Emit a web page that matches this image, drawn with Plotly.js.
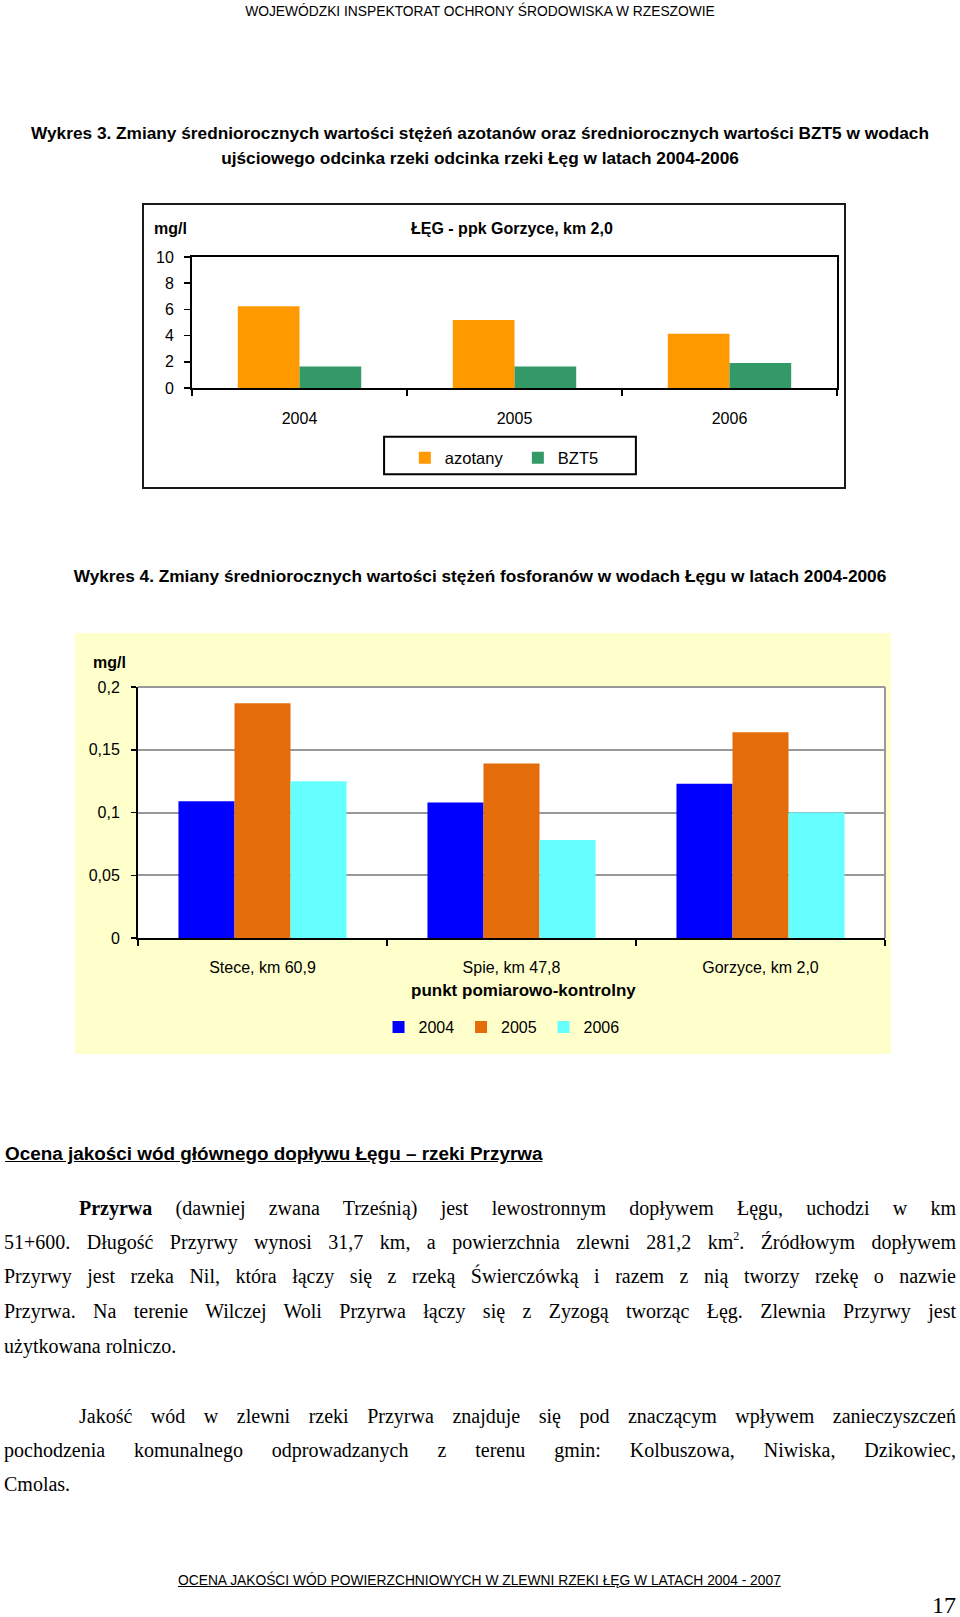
<!DOCTYPE html>
<html><head><meta charset="utf-8">
<script src="https://cdn.plot.ly/plotly-3.0.1.min.js"></script>
<style>
html,body{margin:0;padding:0;background:#fff}
body{width:960px;height:1617px;position:relative;overflow:hidden;font-family:"Liberation Sans",Arial,sans-serif;color:#000}
.t{position:absolute;white-space:nowrap;line-height:1}
.c{left:0;width:960px;text-align:center}
.b{font-weight:bold}
.ln{position:absolute;font-family:"Liberation Serif","Times New Roman",serif;font-size:20px;line-height:34px;height:34px;overflow:visible}
.j{text-align:justify;text-align-last:justify}
sup{font-size:12px;line-height:0;vertical-align:9px}
#frame1{position:absolute;left:142px;top:203px;width:704px;height:286px;box-sizing:border-box;border:2px solid #1a1a1a}
#chart1{position:absolute;left:0;top:0;width:700px;height:282px}
#chart2{position:absolute;left:75px;top:633px;width:816px;height:421px}
</style></head>
<body>
<div class="t c" style="top:5px;font-size:13.8px">WOJEWÓDZKI INSPEKTORAT OCHRONY ŚRODOWISKA W RZESZOWIE</div>
<div class="t c b" style="top:125px;font-size:17.25px">Wykres 3. Zmiany średniorocznych wartości stężeń azotanów oraz średniorocznych wartości BZT5 w wodach</div>
<div class="t c b" style="top:150px;font-size:17.25px">ujściowego odcinka rzeki odcinka rzeki Łęg w latach 2004-2006</div>
<div id="frame1"><div id="chart1"></div></div>
<div class="t c b" style="top:568px;font-size:17.25px">Wykres 4. Zmiany średniorocznych wartości stężeń fosforanów w wodach Łęgu w latach 2004-2006</div>
<div id="chart2"></div>
<div class="t b" style="left:5px;top:1145px;font-size:18.9px;text-decoration:underline">Ocena jakości wód głównego dopływu Łęgu – rzeki Przyrwa</div>
<div class="ln j" style="left:79px;width:877px;top:1191px"><b>Przyrwa</b> (dawniej zwana Trześnią) jest lewostronnym dopływem Łęgu, uchodzi w km</div>
<div class="ln j" style="left:4px;width:952px;top:1225px">51+600. Długość Przyrwy wynosi 31,7 km, a powierzchnia zlewni 281,2 km<sup>2</sup>. Źródłowym dopływem</div>
<div class="ln j" style="left:4px;width:952px;top:1259px">Przyrwy jest rzeka Nil, która łączy się z rzeką Świerczówką i razem z nią tworzy rzekę o nazwie</div>
<div class="ln j" style="left:4px;width:952px;top:1294px">Przyrwa. Na terenie Wilczej Woli Przyrwa łączy się z Zyzogą tworząc Łęg. Zlewnia Przyrwy jest</div>
<div class="ln" style="left:4px;width:952px;top:1329px">użytkowana rolniczo.</div>
<div class="ln j" style="left:79px;width:877px;top:1399px">Jakość wód w zlewni rzeki Przyrwa znajduje się pod znaczącym wpływem zanieczyszczeń</div>
<div class="ln j" style="left:4px;width:952px;top:1433px">pochodzenia komunalnego odprowadzanych z terenu gmin: Kolbuszowa, Niwiska, Dzikowiec,</div>
<div class="ln" style="left:4px;width:952px;top:1467px">Cmolas.</div>
<div class="t" style="left:178px;top:1574px;font-size:13.8px;text-decoration:underline">OCENA JAKOŚCI WÓD POWIERZCHNIOWYCH W ZLEWNI RZEKI ŁĘG W LATACH 2004 - 2007</div>
<div class="t" style="right:4px;top:1593px;font-size:24px;font-family:'Liberation Serif','Times New Roman',serif">17</div>
<script>
// ---- Wykres 3 data ----
const years = ['2004', '2005', '2006'];
const azotany = [6.25, 5.2, 4.15];
const bzt5 = [1.65, 1.65, 1.9];
const ticks1 = [0, 2, 4, 6, 8, 10];

// ---- Wykres 4 data ----
const points = ['Stece, km 60,9', 'Spie, km 47,8', 'Gorzyce, km 2,0'];
const fos2004 = [0.109, 0.108, 0.123];
const fos2005 = [0.187, 0.139, 0.164];
const fos2006 = [0.125, 0.078, 0.100];
const ticks2 = [0, 0.05, 0.1, 0.15, 0.2];

const FONT = 'Liberation Sans, Arial, sans-serif';

Plotly.newPlot('chart1', [
  {type: 'bar', x: years, y: azotany, name: 'azotany', marker: {color: '#FF9900'}},
  {type: 'bar', x: years, y: bzt5, name: 'BZT5', marker: {color: '#339966'}}
], {
  width: 700, height: 282,
  margin: {l: 48, r: 7, t: 52, b: 99},
  paper_bgcolor: '#FFFFFF', plot_bgcolor: '#FFFFFF',
  font: {family: FONT, color: '#000', size: 16},
  barmode: 'group', bargap: 0.426, bargroupgap: 0,
  showlegend: true,
  legend: {orientation: 'h', x: 0.330, xanchor: 'left', y: -0.534, yanchor: 'middle',
           font: {size: 16.5}, entrywidth: 68, bgcolor: 'rgba(0,0,0,0)'},
  xaxis: {type: 'category', showline: true, linecolor: '#000', linewidth: 2, mirror: true,
          ticks: 'outside', tickson: 'boundaries', ticklen: 6, tickwidth: 1.5, tickcolor: '#000',
          tickfont: {size: 16}, ticklabelstandoff: 15, showgrid: false, zeroline: false},
  yaxis: {range: [0, 10], tickvals: ticks1, showline: true, linecolor: '#000', linewidth: 2, mirror: true,
          ticks: 'outside', ticklen: 6, tickwidth: 1.5, tickcolor: '#000', ticklabelstandoff: 7,
          tickfont: {size: 16}, showgrid: false, zeroline: false},
  annotations: [
    {text: '<b>ŁĘG - ppk Gorzyce, km 2,0</b>', xref: 'paper', yref: 'paper', x: 0.496, y: 1.221,
     xanchor: 'center', yanchor: 'middle', showarrow: false, font: {size: 16}},
    {text: '<b>mg/l</b>', xref: 'paper', yref: 'paper', x: -0.0326, y: 1.221,
     xanchor: 'center', yanchor: 'middle', showarrow: false, font: {size: 16}}
  ],
  shapes: [
    {type: 'rect', xref: 'paper', yref: 'paper', x0: 0.2978, x1: 0.6882, y0: -0.659, y1: -0.372,
     line: {color: '#000', width: 2}}
  ]
}, {displayModeBar: false, staticPlot: true});

Plotly.newPlot('chart2', [
  {type: 'bar', x: points, y: fos2004, name: '2004', marker: {color: '#0000FF'}},
  {type: 'bar', x: points, y: fos2005, name: '2005', marker: {color: '#E46C0A'}},
  {type: 'bar', x: points, y: fos2006, name: '2006', marker: {color: '#66FFFF'}}
], {
  width: 816, height: 421,
  margin: {l: 63, r: 6, t: 54, b: 116},
  paper_bgcolor: '#FFFFCC', plot_bgcolor: '#FFFFFF',
  font: {family: FONT, color: '#000', size: 16},
  separators: ', ',
  barmode: 'group', bargap: 0.325, bargroupgap: 0,
  showlegend: true,
  legend: {orientation: 'h', x: 0.322, xanchor: 'left', y: -0.355, yanchor: 'middle',
           font: {size: 16}, entrywidth: 37.5, bgcolor: 'rgba(0,0,0,0)'},
  xaxis: {type: 'category', showline: true, linecolor: '#000', linewidth: 2,
          ticks: 'outside', tickson: 'boundaries', ticklen: 6, tickwidth: 1.5, tickcolor: '#000',
          tickfont: {size: 16}, ticklabelstandoff: 14, showgrid: false, zeroline: false},
  yaxis: {range: [0, 0.2], tickvals: ticks2, showline: true, linecolor: '#000', linewidth: 2,
          ticks: 'outside', ticklen: 5, tickwidth: 1.5, tickcolor: '#000', ticklabelstandoff: 8,
          tickfont: {size: 16}, showgrid: true, gridcolor: '#999999', gridwidth: 2, zeroline: false},
  annotations: [
    {text: '<b>mg/l</b>', xref: 'paper', yref: 'paper', x: -0.0375, y: 1.0996,
     xanchor: 'center', yanchor: 'middle', showarrow: false, font: {size: 16}},
    {text: '<b>punkt pomiarowo-kontrolny</b>', xref: 'paper', yref: 'paper', x: 0.5154, y: -0.21,
     xanchor: 'center', yanchor: 'middle', showarrow: false, font: {size: 17}}
  ],
  shapes: [
    {type: 'line', xref: 'paper', yref: 'paper', x0: 1, x1: 1, y0: 0, y1: 1,
     line: {color: '#999999', width: 2}},
    {type: 'line', xref: 'paper', yref: 'paper', x0: 0, x1: 1, y0: 1, y1: 1,
     line: {color: '#999999', width: 2}}
  ]
}, {displayModeBar: false, staticPlot: true});
</script>
</body></html>
